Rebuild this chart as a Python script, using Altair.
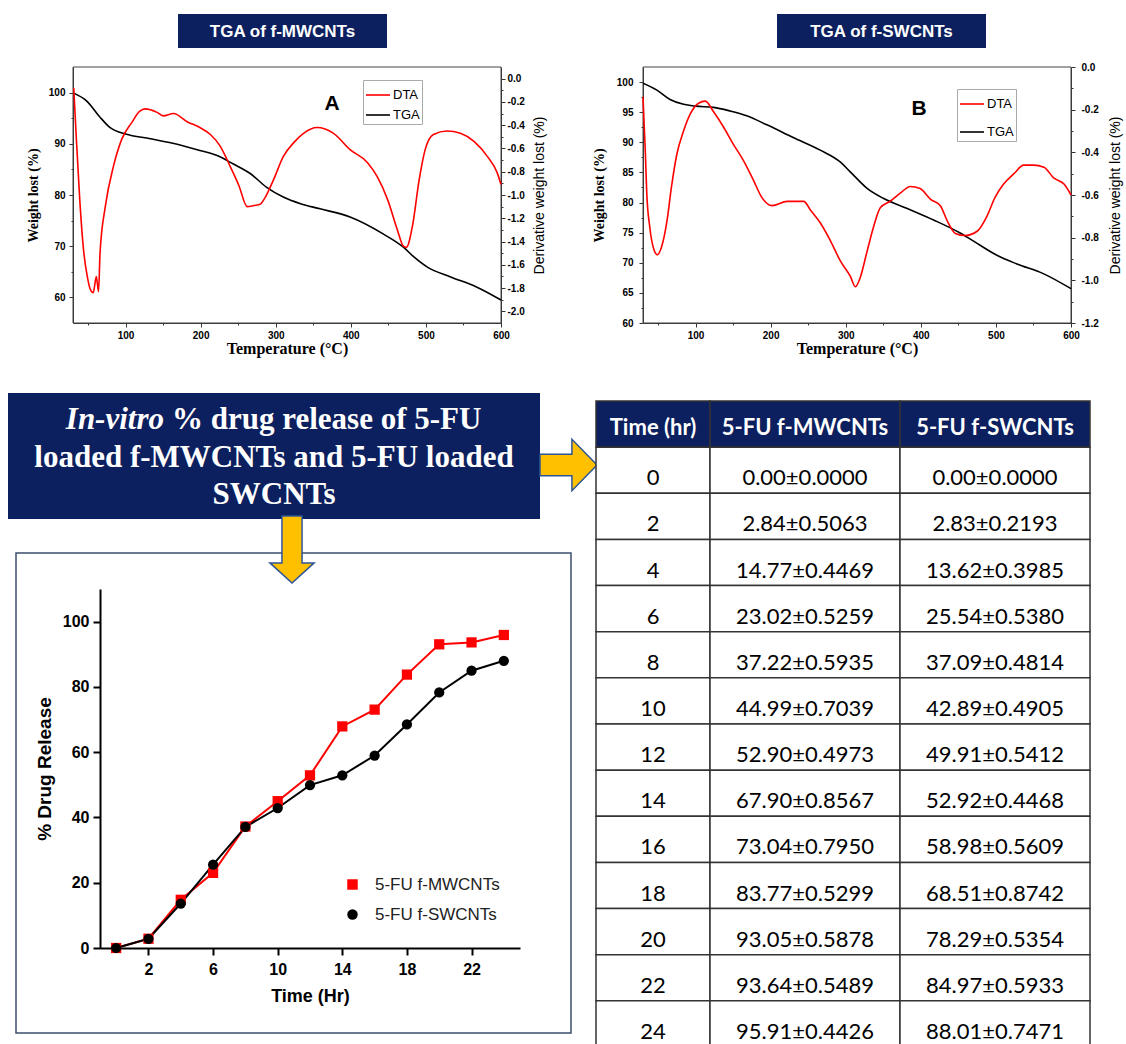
import altair as alt
import pandas as pd

# ---------------- data ----------------
# Panel A: TGA / DTA of f-MWCNTs
a_tga_T = [31, 48, 66, 79, 100, 133, 163, 199, 222, 243, 266, 288, 310, 333, 359, 399, 443, 470, 484, 502, 533, 568, 600]
a_tga_W = [99.9, 98.4, 95.2, 93.2, 91.9, 91.0, 90.1, 88.7, 87.7, 86.1, 84.2, 81.5, 79.6, 78.3, 77.3, 75.7, 72.4, 69.8, 67.9, 65.9, 64.0, 62.0, 59.5]
a_dta_T = [31, 34, 39, 44, 49, 53, 57, 61, 64, 66, 73, 84, 95, 108, 119, 126, 142, 150, 164, 182,
           199, 213, 226, 239, 251, 262, 271, 279, 286, 297, 310, 324, 337, 355, 377, 399, 422, 435, 449, 462,
           470, 474, 482, 491, 499, 510, 528, 546, 564, 582, 595, 600]
a_dta_D = [-0.08, -0.46, -1.04, -1.47, -1.70, -1.81, -1.84, -1.70, -1.83, -1.50, -1.10, -0.75, -0.52, -0.38, -0.28, -0.26, -0.29, -0.32, -0.30, -0.37,
           -0.42, -0.48, -0.58, -0.75, -0.92, -1.10, -1.09, -1.08, -1.02, -0.87, -0.67, -0.55, -0.47, -0.42, -0.47, -0.61, -0.72, -0.84, -1.04, -1.30,
           -1.44, -1.45, -1.27, -0.87, -0.61, -0.48, -0.45, -0.47, -0.54, -0.67, -0.81, -0.91]

# Panel B: TGA / DTA of f-SWCNTs
b_tga_T = [30, 48, 66, 84, 100, 124, 146, 168, 195, 230, 266, 293, 306, 328, 350, 382, 417, 453, 479, 502, 528, 563, 600]
b_tga_W = [99.8, 98.7, 97.1, 96.3, 96.0, 95.8, 95.2, 94.4, 92.9, 90.8, 88.7, 86.7, 85.1, 82.4, 80.7, 79.0, 77.1, 74.9, 72.9, 71.2, 69.8, 68.2, 65.7]
b_dta_T = [30, 33, 35, 39, 44, 49, 55, 62, 68, 75, 84, 93, 104, 113, 124, 137, 150, 164, 177, 188,
           202, 222, 244, 253, 266, 279, 293, 306, 313, 319, 328, 337, 346, 359, 373, 386, 399, 413, 426, 435,
           446, 459, 475, 488, 499, 510, 524, 537, 550, 564, 577, 591, 600]
b_dta_D = [-0.14, -0.39, -0.59, -0.75, -0.85, -0.88, -0.84, -0.72, -0.56, -0.41, -0.30, -0.22, -0.17, -0.16, -0.21, -0.28, -0.36, -0.44, -0.53, -0.61,
           -0.65, -0.63, -0.63, -0.67, -0.73, -0.81, -0.91, -0.98, -1.03, -0.99, -0.87, -0.75, -0.66, -0.63, -0.59, -0.56, -0.57, -0.62, -0.65, -0.72,
           -0.78, -0.79, -0.77, -0.70, -0.61, -0.55, -0.50, -0.46, -0.46, -0.47, -0.52, -0.55, -0.60]

# In-vitro release
hours = [0, 2, 4, 6, 8, 10, 12, 14, 16, 18, 20, 22, 24]
mw_mean = [0.00, 2.84, 14.77, 23.02, 37.22, 44.99, 52.90, 67.90, 73.04, 83.77, 93.05, 93.64, 95.91]
mw_sd = [0.0000, 0.5063, 0.4469, 0.5259, 0.5935, 0.7039, 0.4973, 0.8567, 0.7950, 0.5299, 0.5878, 0.5489, 0.4426]
sw_mean = [0.00, 2.83, 13.62, 25.54, 37.09, 42.89, 49.91, 52.92, 58.98, 68.51, 78.29, 84.97, 88.01]
sw_sd = [0.0000, 0.2193, 0.3985, 0.5380, 0.4814, 0.4905, 0.5412, 0.4468, 0.5609, 0.8742, 0.5354, 0.5933, 0.7471]
series_names = ["5-FU f-MWCNTs", "5-FU f-SWCNTs"]
table_header = ["Time (hr)", "5-FU f-MWCNTs", "5-FU f-SWCNTs"]

# ---------------- style ----------------
W, H = 1126, 1044
NAVY = "#0c1f5e"
RED = "#ff0000"
SANS = "Liberation Sans"
SERIF = "Liberation Serif"
TFONT = "Lato"
GOLD = "#ffc000"
ARROW_EDGE = "#2f5597"

one = pd.DataFrame({"k": [0]})


def rect(x0, y0, x1, y1, **kw):
    return alt.Chart(one).mark_rect(**kw).encode(
        x=alt.value(x0), x2=alt.value(x1), y=alt.value(y0), y2=alt.value(y1))


def label(x, y, text, **kw):
    return alt.Chart(one).mark_text(text=text, **kw).encode(x=alt.value(x), y=alt.value(y))


def tga_panel(px0, px1, py0, py1, tga_T, tga_W, dta_T, dta_D,
              ydomL, ydomR, valsL, valsR, major_left, leg_x, leg_y, leg_rowpad,
              lpad, ltitlepad, rpad, rtitlepad):
    xs = alt.Scale(domain=[30, 600], range=[px0, px1], nice=False, zero=False)
    x_axis = alt.Axis(
        orient="bottom", offset=py1 - H, values=list(range(50, 601, 50)),
        labelExpr="datum.value % 100 === 0 ? datum.label : ''",
        tickSize={"condition": {"test": "datum.value % 100 === 0", "value": 4}, "value": 2},
        title="Temperature (°C)", titleFont=SERIF, titleFontSize=16, titleFontWeight="bold",
        titlePadding=0, titleColor="black",
        labelFont=SANS, labelFontSize=10, labelFontWeight="bold", labelPadding=3,
        labelFlush=False, labelColor="black", grid=False, domainColor="#333", tickColor="#333")
    left_axis = alt.Axis(
        orient="left", offset=-px0, values=valsL,
        labelExpr=f"datum.value % {major_left} === 0 ? datum.label : ''",
        tickSize={"condition": {"test": f"datum.value % {major_left} === 0", "value": 4}, "value": 2},
        title="Weight lost (%)", titleFont=SERIF, titleFontSize=14, titleFontWeight="bold",
        titlePadding=ltitlepad, titleColor="black",
        labelFont=SANS, labelFontSize=10, labelFontWeight="bold", labelPadding=lpad,
        labelColor="black", grid=False, domainColor="#333", tickColor="#333", labelOverlap=False)
    right_axis = alt.Axis(
        orient="right", offset=px1 - W, values=valsR,
        labelExpr="round(datum.value*10) % 2 === 0 ? replace(format(datum.value, '.1f'), '\u2212', '-') : ''",
        tickSize={"condition": {"test": "round(datum.value*10) % 2 === 0", "value": 4}, "value": 2},
        title="Derivative weight lost (%)", titleFont=SANS, titleFontSize=14, titleFontWeight="normal",
        titleAngle=270, titleBaseline="top", titlePadding=rtitlepad, titleColor="black",
        labelFont=SANS, labelFontSize=10, labelFontWeight="bold", labelPadding=rpad,
        labelColor="black", grid=False, domainColor="#333", tickColor="#333", labelOverlap=False)
    cscale = alt.Scale(domain=["DTA", "TGA"], range=[RED, "black"])
    tga = alt.Chart(pd.DataFrame({"T": tga_T, "v": tga_W, "s": "TGA"})).mark_line(
        strokeWidth=1.6, interpolate="monotone").encode(
        x=alt.X("T:Q", scale=xs, axis=x_axis),
        y=alt.Y("v:Q", scale=alt.Scale(domain=ydomL, range=[py1, py0], nice=False, zero=False), axis=left_axis),
        color=alt.Color("s:N", scale=cscale, legend=None))
    dta = alt.Chart(pd.DataFrame({"T": dta_T, "v": dta_D, "s": "DTA"})).mark_line(
        strokeWidth=1.6, interpolate="monotone").encode(
        x=alt.X("T:Q", scale=xs, axis=None),
        y=alt.Y("v:Q", scale=alt.Scale(domain=ydomR, range=[py1, py0], nice=False, zero=False), axis=right_axis),
        color=alt.Color("s:N", scale=cscale, legend=alt.Legend(
            orient="none", legendX=leg_x, legendY=leg_y, title=None, symbolType="stroke",
            symbolSize=576, symbolStrokeWidth=1.6, labelFont=SANS, labelFontSize=13,
            labelColor="black", strokeColor="#aaa", padding=2, rowPadding=leg_rowpad,
            labelOffset=2, fillColor="white")))
    return [tga, dta]


layers = []

# ---- top titles and frames ----
layers += [
    rect(178, 14, 387, 48, color=NAVY),
    label(282.5, 31.5, "TGA of f-MWCNTs", font=SANS, fontSize=17, fontWeight="bold", color="white",
          align="center", baseline="middle"),
    rect(777, 14, 986, 48, color=NAVY),
    label(881.5, 31.5, "TGA of f-SWCNTs", font=SANS, fontSize=17, fontWeight="bold", color="white",
          align="center", baseline="middle"),
    rect(73, 67, 501, 323, fill="white", fillOpacity=0, stroke="#444", strokeWidth=1),
    rect(643, 67, 1071, 323, fill="white", fillOpacity=0, stroke="#444", strokeWidth=1),
]

valsA_L = list(range(60, 101, 5))
valsA_R = [round(-0.1 * i, 1) for i in range(0, 21)]
valsB_L = [60 + 2.5 * i for i in range(0, 17)]
valsB_R = [round(-0.1 * i, 1) for i in range(0, 13)]

layers += tga_panel(73, 501, 67, 323, a_tga_T, a_tga_W, a_dta_T, a_dta_D,
                    [55, 105], [-2.1, 0.1], valsA_L, valsA_R, 10, 363, 80, 0, 4, 8, 2, 8)
layers += tga_panel(643, 1071, 67, 323, b_tga_T, b_tga_W, b_dta_T, b_dta_D,
                    [60, 102.5], [-1.2, 0.0], valsB_L, valsB_R, 5, 957, 89, 8, 6, 10, 6, 10)

layers += [
    label(332, 104, "A", font=SANS, fontSize=21, fontWeight="bold", color="black", align="center", baseline="middle"),
    label(919, 109, "B", font=SANS, fontSize=21, fontWeight="bold", color="black", align="center", baseline="middle"),
]

# ---- big title box, arrows, frame ----
tstyle = dict(font=SERIF, fontSize=31, fontWeight="bold", color="white", baseline="middle")
layers += [
    rect(8, 393, 540, 519, color=NAVY),
    label(164, 420, "In-vitro", fontStyle="italic", align="right", **tstyle),
    label(172, 420, "% drug release of 5-FU", align="left", **tstyle),
    label(274, 458, "loaded f-MWCNTs and 5-FU loaded", align="center", **tstyle),
    label(274, 495, "SWCNTs", align="center", **tstyle),
    rect(16, 553, 571, 1033, fill="white", fillOpacity=0, stroke="#3d4f6e", strokeWidth=1.5),
    alt.Chart(one).mark_point(
        shape="M-1,-0.38L0.12,-0.38L0.12,-0.9L1,0L0.12,0.9L0.12,0.38L-1,0.38Z",
        size=3249, filled=True, fill=GOLD, stroke=ARROW_EDGE, strokeWidth=1.5, opacity=1
    ).encode(x=alt.value(568.5), y=alt.value(465)),
    alt.Chart(one).mark_point(
        shape="M-0.3,-1L0.3,-1L0.3,0.4L0.66,0.4L0,1L-0.66,0.4L-0.3,0.4Z",
        size=4489, filled=True, fill=GOLD, stroke=ARROW_EDGE, strokeWidth=1.5, opacity=1
    ).encode(x=alt.value(292), y=alt.value(549.5)),
]

# ---- release line chart ----
rel = pd.DataFrame({
    "hour": hours + hours,
    "val": mw_mean + sw_mean,
    "series": [series_names[0]] * len(hours) + [series_names[1]] * len(hours),
})
xs_rel = alt.Scale(domain=[-1, 25], range=[100, 520], nice=False, zero=False)
ys_rel = alt.Scale(domain=[0, 110], range=[948, 589], nice=False, zero=False)
rel_color = alt.Scale(domain=series_names, range=[RED, "black"])
x_rel_axis = alt.Axis(orient="bottom", offset=948 - H, values=[2, 6, 10, 14, 18, 22], title="Time (Hr)",
                      titleFont=SANS, titleFontSize=18, titleFontWeight="bold", titleColor="black", titlePadding=10,
                      labelFont=SANS, labelFontSize=16, labelFontWeight="bold", labelColor="black", labelPadding=6,
                      tickSize=7, tickWidth=2, domainWidth=2, domainColor="black", tickColor="black",
                      grid=False, labelFlush=False)
y_rel_axis = alt.Axis(orient="left", offset=-100, values=[0, 20, 40, 60, 80, 100], title="% Drug Release",
                      titleFont=SANS, titleFontSize=19, titleFontWeight="bold", titleColor="black", titlePadding=8,
                      labelFont=SANS, labelFontSize=16, labelFontWeight="bold", labelColor="black", labelPadding=4,
                      tickSize=7, tickWidth=2, domainWidth=2, domainColor="black", tickColor="black", grid=False)
leg_kw = dict(orient="none", legendX=344, legendY=876, title=None, labelFont=SANS, labelFontSize=17,
              labelColor="#222", symbolSize=110, rowPadding=12, labelOffset=14)
layers += [
    alt.Chart(rel).mark_line(strokeWidth=2).encode(
        x=alt.X("hour:Q", scale=xs_rel, axis=x_rel_axis),
        y=alt.Y("val:Q", scale=ys_rel, axis=y_rel_axis),
        color=alt.Color("series:N", scale=rel_color, legend=None),
        detail="series:N"),
    alt.Chart(rel).mark_point(filled=True, size=105, opacity=1).encode(
        x=alt.X("hour:Q", scale=xs_rel, axis=None),
        y=alt.Y("val:Q", scale=ys_rel, axis=None),
        color=alt.Color("series:N", scale=rel_color, legend=alt.Legend(**leg_kw)),
        shape=alt.Shape("series:N", scale=alt.Scale(domain=series_names, range=["square", "circle"]),
                        legend=alt.Legend(**leg_kw))),
]

# ---- table ----
row_keys = ["hdr"] + [str(h) for h in hours]
tbl = pd.DataFrame({
    "row": row_keys,
    "c0": [table_header[0]] + [str(h) for h in hours],
    "c1": [table_header[1]] + [f"{m:.2f}±{s:.4f}" for m, s in zip(mw_mean, mw_sd)],
    "c2": [table_header[2]] + [f"{m:.2f}±{s:.4f}" for m, s in zip(sw_mean, sw_sd)],
})
yscale_t = alt.Scale(domain=row_keys, range=[401, 1047], paddingInner=0, paddingOuter=0)
col_edges = [596, 710, 900, 1090]
for ci in range(3):
    x0, x1 = col_edges[ci], col_edges[ci + 1]
    layers.append(
        alt.Chart(tbl).mark_rect(stroke="#333", strokeWidth=1.5).encode(
            x=alt.value(x0), x2=alt.value(x1),
            y=alt.Y("row:N", scale=yscale_t, axis=None),
            fill=alt.condition("datum.row === 'hdr'", alt.value(NAVY), alt.value("white"))))
for ci in range(3):
    xc = (col_edges[ci] + col_edges[ci + 1]) / 2
    layers.append(
        alt.Chart(tbl).transform_filter("datum.row === 'hdr'").mark_text(
            font=TFONT, fontSize=22, fontWeight="bold", color="white", dy=4, baseline="middle"
        ).encode(x=alt.value(xc), y=alt.Y("row:N", scale=yscale_t, axis=None, bandPosition=0.5),
                 text=f"c{ci}:N"))
    layers.append(
        alt.Chart(tbl).transform_filter("datum.row !== 'hdr'").mark_text(
            font=TFONT, fontSize=22, color="black", dy=8, baseline="middle"
        ).encode(x=alt.value(xc), y=alt.Y("row:N", scale=yscale_t, axis=None, bandPosition=0.5),
                 text=f"c{ci}:N"))

chart = alt.layer(*layers).resolve_scale(
    x="independent", y="independent", color="independent", shape="independent"
).resolve_axis(x="independent", y="independent").resolve_legend(
    color="independent", shape="independent"
).properties(
    width=W, height=H, padding=0, background="white",
    autosize=alt.AutoSizeParams(type="none"),
).configure_view(stroke=None).configure_axis(grid=False)

chart.save("out.html", embed_options={"renderer": "svg", "actions": False})
